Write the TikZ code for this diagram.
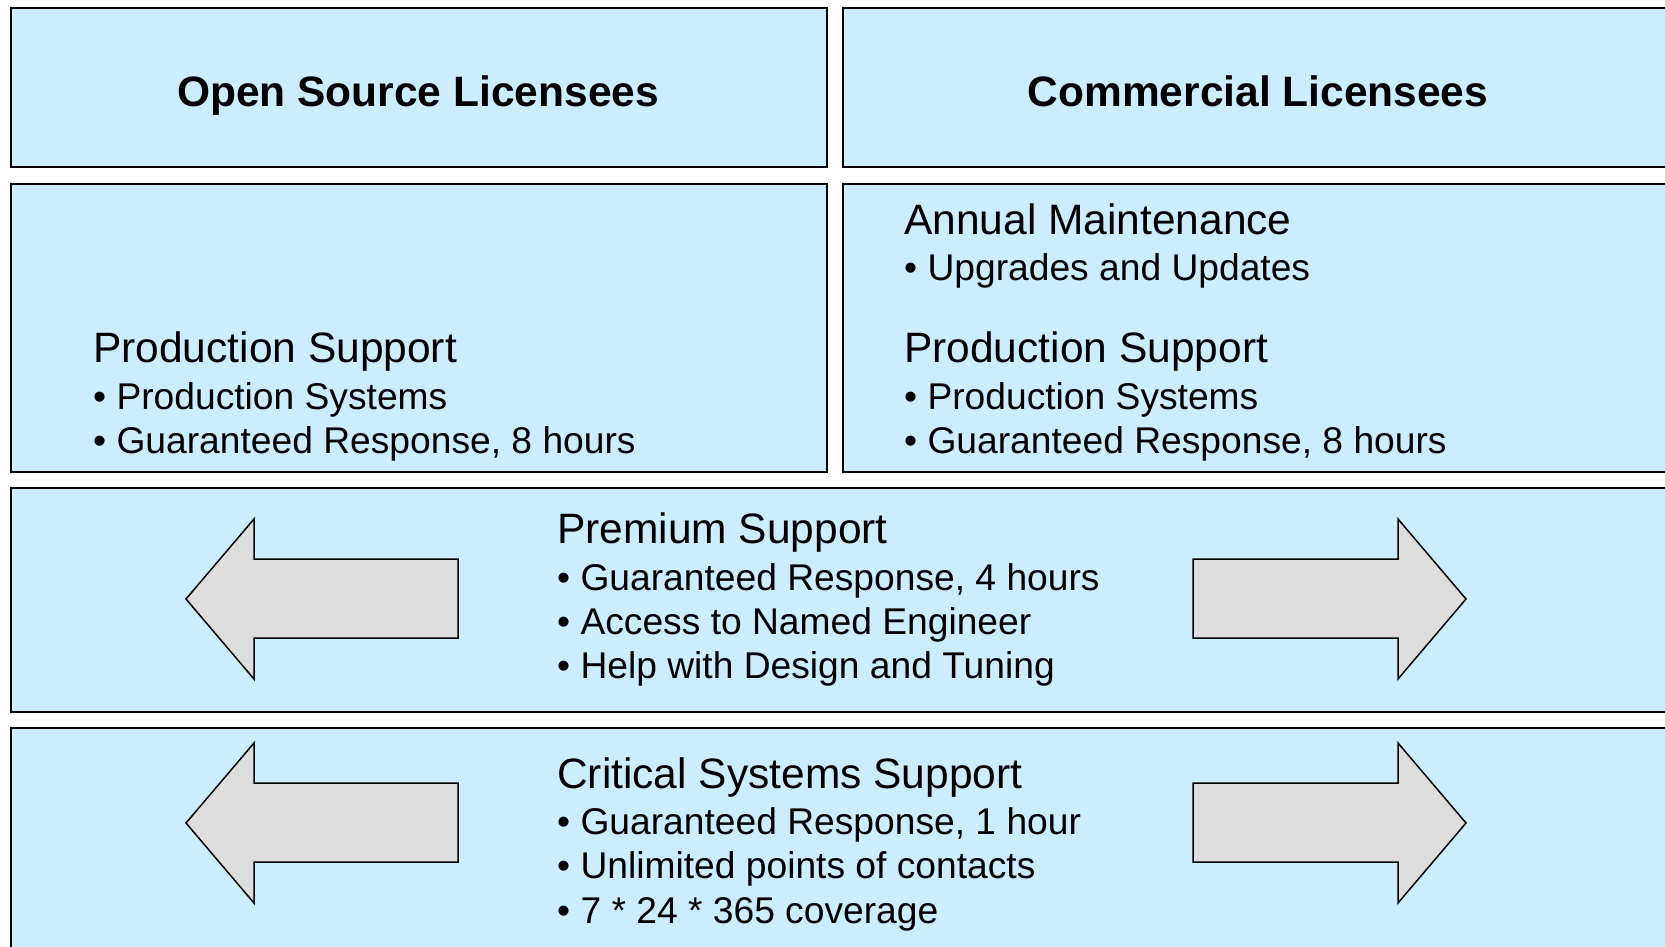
\documentclass[tikz,border=0pt]{standalone}
\usepackage{fontspec}
\setmainfont{Liberation Sans}
\definecolor{panelblue}{HTML}{CCECFF}
\definecolor{arrowgray}{HTML}{DDDDDD}
\tikzset{
	panel/.style={draw=black,line width=2pt,fill=panelblue,inner sep=0pt,anchor=north west},
	bigarrow/.style={draw=black,line width=1.5pt,fill=arrowgray,line join=miter},
	headtext/.style={anchor=base,inner sep=0pt,font=\fontsize{42.5}{50}\selectfont\bfseries},
	titletext/.style={anchor=base west,inner sep=0pt,font=\fontsize{42.5}{50}\selectfont},
	itemtext/.style={anchor=base west,inner sep=0pt,font=\fontsize{37.2}{44}\selectfont}
}
\begin{document}
\begin{tikzpicture}[x=1pt,y=-1pt]
		\useasboundingbox (0,0) rectangle (1665,946);
		\clip (0,0) rectangle (1665,946);
		% panels
		\node[panel,minimum width=816pt,minimum height=159pt] (hdrL) at (10,7) {};
		\node[panel,minimum width=840pt,minimum height=159pt] (hdrR) at (842,7) {};
		\node[panel,minimum width=816pt,minimum height=288pt] (bodyL) at (10,183) {};
		\node[panel,minimum width=840pt,minimum height=288pt] (bodyR) at (842,183) {};
		\node[panel,minimum width=1672pt,minimum height=224pt] (prem) at (10,487) {};
		\node[panel,minimum width=1672pt,minimum height=240pt] (crit) at (10,727) {};
		% headers
		\node[headtext] (opensrc) at (418,106) {Open Source Licensees};
		\node[headtext] (commerc) at (1258,106) {Commercial Licensees};
		% left body
		\node[titletext] (prodL) at (93,362) {Production Support};
		\node[itemtext] (prodL1) at (93,409) {• Production Systems};
		\node[itemtext] (prodL2) at (93,453) {• Guaranteed Response, 8 hours};
		% right body
		\node[titletext] (maint) at (904,234) {Annual Maintenance};
		\node[itemtext] (maint1) at (904,280) {• Upgrades and Updates};
		\node[titletext] (prodR) at (904,362) {Production Support};
		\node[itemtext] (prodR1) at (904,409) {• Production Systems};
		\node[itemtext] (prodR2) at (904,453) {• Guaranteed Response, 8 hours};
		% premium
		\node[titletext] (premT) at (557,543) {Premium Support};
		\node[itemtext] (prem1) at (557,590) {• Guaranteed Response, 4 hours};
		\node[itemtext] (prem2) at (557,634) {• Access to Named Engineer};
		\node[itemtext] (prem3) at (557,678) {• Help with Design and Tuning};
		% critical
		\node[titletext] (critT) at (557,788) {Critical Systems Support};
		\node[itemtext] (crit1) at (557,834) {• Guaranteed Response, 1 hour};
		\node[itemtext] (crit2) at (557,878) {• Unlimited points of contacts};
		\node[itemtext] (crit3) at (557,923) {• 7 * 24 * 365 coverage};
		% arrows
		\draw[bigarrow] (458,559) -- (254,559) -- (254,519) -- (186,599) -- (254,679) -- (254,638) -- (458,638) -- cycle;
		\draw[bigarrow] (1193,559) -- (1398,559) -- (1398,519) -- (1466,599) -- (1398,679) -- (1398,638) -- (1193,638) -- cycle;
		\draw[bigarrow] (458,783) -- (254,783) -- (254,743) -- (186,823) -- (254,903) -- (254,862) -- (458,862) -- cycle;
		\draw[bigarrow] (1193,783) -- (1398,783) -- (1398,743) -- (1466,823) -- (1398,903) -- (1398,862) -- (1193,862) -- cycle;
	\end{tikzpicture}
\end{document}
